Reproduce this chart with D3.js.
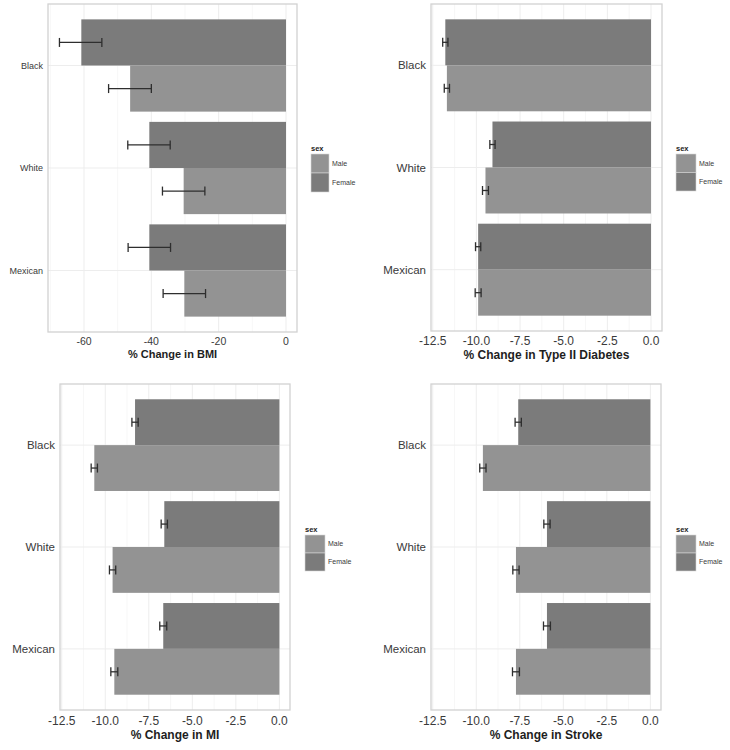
<!DOCTYPE html>
<html>
<head>
<meta charset="utf-8">
<script src="https://cdn.jsdelivr.net/npm/d3@7"></script>
<style>
  html, body { margin: 0; padding: 0; background: #ffffff; }
  svg { display: block; }
  text { font-family: "Liberation Sans", Arial, Helvetica, sans-serif; }
</style>
</head>
<body>
<svg id="chart" width="730" height="750"></svg>
<script>
// ---------- data ----------
const categories = ["Black", "White", "Mexican"];
const sexes = ["Male", "Female"];
const legendTitle = "sex";

const bmiFemale   = [-60.8, -40.6, -40.6];
const bmiMale     = [-46.3, -30.4, -30.2];
const bmiFemaleLo = [-67.3, -47.0, -46.9];
const bmiFemaleHi = [-54.7, -34.4, -34.3];
const bmiMaleLo   = [-52.7, -36.7, -36.5];
const bmiMaleHi   = [-40.0, -24.1, -23.9];
const bmiTicks    = [-60, -40, -20, 0];

const diabFemale   = [-11.78, -9.08, -9.90];
const diabMale     = [-11.69, -9.48, -9.90];
const diabFemaleLo = [-11.93, -9.23, -10.05];
const diabFemaleHi = [-11.63, -8.93, -9.75];
const diabMaleLo   = [-11.84, -9.65, -10.07];
const diabMaleHi   = [-11.54, -9.31, -9.73];

const miFemale   = [-8.29, -6.61, -6.67];
const miMale     = [-10.63, -9.58, -9.48];
const miFemaleLo = [-8.47, -6.79, -6.87];
const miFemaleHi = [-8.11, -6.43, -6.47];
const miMaleLo   = [-10.81, -9.76, -9.68];
const miMaleHi   = [-10.45, -9.40, -9.28];

const strokeFemale   = [-7.59, -5.94, -5.94];
const strokeMale     = [-9.62, -7.72, -7.72];
const strokeFemaleLo = [-7.77, -6.12, -6.14];
const strokeFemaleHi = [-7.41, -5.76, -5.74];
const strokeMaleLo   = [-9.80, -7.90, -7.92];
const strokeMaleHi   = [-9.44, -7.54, -7.52];

const smallTicks = [-12.5, -10.0, -7.5, -5.0, -2.5, 0.0];

// ---------- styles / layout ----------
const colors = { Male: "#939393", Female: "#7b7b7b" };
const svg = d3.select("#chart");
const hyphen = f => (v => f(v).replace("\u2212", "-"));

const panels = [
  { title: "% Change in BMI", female: bmiFemale, male: bmiMale,
    fLo: bmiFemaleLo, fHi: bmiFemaleHi, mLo: bmiMaleLo, mHi: bmiMaleHi,
    ticks: bmiTicks, fmt: hyphen(d3.format("d")), domain: [-70.7, 3.27],
    box: { x0: 48, x1: 297, y0: 4, y1: 332 }, catSize: 9, tickSize: 10.5, titleSize: 11,
    tickY: 345, titleY: 358, legend: { x: 311, y: 154, kw: 18, kh: 19, tx: 332 } },
  { title: "% Change in Type II Diabetes", female: diabFemale, male: diabMale,
    fLo: diabFemaleLo, fHi: diabFemaleHi, mLo: diabMaleLo, mHi: diabMaleHi,
    ticks: smallTicks, fmt: hyphen(d3.format(".1f")), domain: [-12.6, 0.63],
    box: { x0: 431, x1: 662, y0: 4, y1: 331 }, catSize: 11.5, tickSize: 12, titleSize: 12,
    tickY: 344.5, titleY: 358.5, legend: { x: 676, y: 154, kw: 20, kh: 18.5, tx: 699 } },
  { title: "% Change in MI", female: miFemale, male: miMale,
    fLo: miFemaleLo, fHi: miFemaleHi, mLo: miMaleLo, mHi: miMaleHi,
    ticks: smallTicks, fmt: hyphen(d3.format(".1f")), domain: [-12.6, 0.61],
    box: { x0: 60, x1: 290, y0: 384, y1: 710 }, catSize: 11.5, tickSize: 12, titleSize: 12,
    tickY: 724.5, titleY: 739, legend: { x: 305, y: 535, kw: 20, kh: 18, tx: 328 } },
  { title: "% Change in Stroke", female: strokeFemale, male: strokeMale,
    fLo: strokeFemaleLo, fHi: strokeFemaleHi, mLo: strokeMaleLo, mHi: strokeMaleHi,
    ticks: smallTicks, fmt: hyphen(d3.format(".1f")), domain: [-12.6, 0.61],
    box: { x0: 431, x1: 661, y0: 384, y1: 710 }, catSize: 11.5, tickSize: 12, titleSize: 12,
    tickY: 724.5, titleY: 739, legend: { x: 676, y: 535, kw: 20, kh: 18, tx: 699 } }
];

panels.forEach(p => {
  const b = p.box;
  const g = svg.append("g");
  const x = d3.scaleLinear().domain(p.domain).range([b.x0, b.x1]);
  const y = d3.scalePoint().domain(categories).range([b.y0, b.y1]).padding(0.6);
  const step = y.step();
  const barH = step * 0.9 / 2;

  // minor gridlines
  const minor = [];
  for (let i = 0; i < p.ticks.length - 1; i++) minor.push((p.ticks[i] + p.ticks[i + 1]) / 2);
  const tStep = p.ticks[1] - p.ticks[0];
  if (p.ticks[0] - tStep / 2 > p.domain[0]) minor.unshift(p.ticks[0] - tStep / 2);
  g.selectAll(".minor").data(minor).join("line")
    .attr("x1", d => x(d)).attr("x2", d => x(d))
    .attr("y1", b.y0).attr("y2", b.y1)
    .attr("stroke", "#f5f5f5").attr("stroke-width", 0.8);
  // major gridlines
  g.selectAll(".major").data(p.ticks).join("line")
    .attr("x1", d => x(d)).attr("x2", d => x(d))
    .attr("y1", b.y0).attr("y2", b.y1)
    .attr("stroke", "#ededed").attr("stroke-width", 1);
  g.selectAll(".hgrid").data(categories).join("line")
    .attr("x1", b.x0).attr("x2", b.x1)
    .attr("y1", d => y(d)).attr("y2", d => y(d))
    .attr("stroke", "#ededed").attr("stroke-width", 1);

  // bars
  const rows = categories.map((c, i) => ({ c, i }));
  g.selectAll(".barF").data(rows).join("rect")
    .attr("x", d => x(p.female[d.i]))
    .attr("width", d => x(0) - x(p.female[d.i]))
    .attr("y", d => y(d.c) - barH)
    .attr("height", barH)
    .attr("fill", colors.Female);
  g.selectAll(".barM").data(rows).join("rect")
    .attr("x", d => x(p.male[d.i]))
    .attr("width", d => x(0) - x(p.male[d.i]))
    .attr("y", d => y(d.c))
    .attr("height", barH)
    .attr("fill", colors.Male);

  // error bars
  const errs = [];
  rows.forEach(d => {
    errs.push({ lo: p.fLo[d.i], hi: p.fHi[d.i], cy: y(d.c) - barH / 2 });
    errs.push({ lo: p.mLo[d.i], hi: p.mHi[d.i], cy: y(d.c) + barH / 2 });
  });
  const cap = 4.5;
  const eg = g.selectAll(".err").data(errs).join("g")
    .attr("stroke", "#2e2e2e").attr("stroke-width", 1.3).attr("fill", "none");
  eg.append("line").attr("x1", d => x(d.lo)).attr("x2", d => x(d.hi))
    .attr("y1", d => d.cy).attr("y2", d => d.cy);
  eg.append("line").attr("x1", d => x(d.lo)).attr("x2", d => x(d.lo))
    .attr("y1", d => d.cy - cap).attr("y2", d => d.cy + cap);
  eg.append("line").attr("x1", d => x(d.hi)).attr("x2", d => x(d.hi))
    .attr("y1", d => d.cy - cap).attr("y2", d => d.cy + cap);

  // panel border
  g.append("rect").attr("x", b.x0).attr("y", b.y0)
    .attr("width", b.x1 - b.x0).attr("height", b.y1 - b.y0)
    .attr("fill", "none").attr("stroke", "#d2d2d2").attr("stroke-width", 1.3);

  // y category labels
  g.selectAll(".cat").data(categories).join("text")
    .attr("x", b.x0 - 5).attr("y", d => y(d))
    .attr("dy", "0.35em").attr("text-anchor", "end")
    .attr("font-size", p.catSize).attr("fill", "#3a3a3a")
    .text(d => d);

  // x tick labels
  g.selectAll(".tick").data(p.ticks).join("text")
    .attr("x", d => x(d)).attr("y", p.tickY)
    .attr("text-anchor", "middle").attr("font-size", p.tickSize).attr("fill", "#3a3a3a")
    .text(d => p.fmt(d));

  // axis title
  g.append("text").attr("x", (b.x0 + b.x1) / 2).attr("y", p.titleY)
    .attr("text-anchor", "middle").attr("font-size", p.titleSize)
    .attr("font-weight", "bold").attr("fill", "#1e1e1e")
    .text(p.title);

  // legend
  const L = p.legend;
  g.append("text").attr("x", L.x).attr("y", L.y - 3)
    .attr("font-size", 7.5).attr("font-weight", "bold").attr("fill", "#222")
    .text(legendTitle);
  sexes.forEach((s, i) => {
    g.append("rect").attr("x", L.x).attr("y", L.y + i * L.kh)
      .attr("width", L.kw).attr("height", L.kh)
      .attr("fill", colors[s]).attr("stroke", "#d8d8d8").attr("stroke-width", 0.6);
    g.append("text").attr("x", L.tx).attr("y", L.y + i * L.kh + L.kh / 2)
      .attr("dy", "0.35em").attr("font-size", 7).attr("fill", "#3a3a3a")
      .text(s);
  });
});
</script>
</body>
</html>
